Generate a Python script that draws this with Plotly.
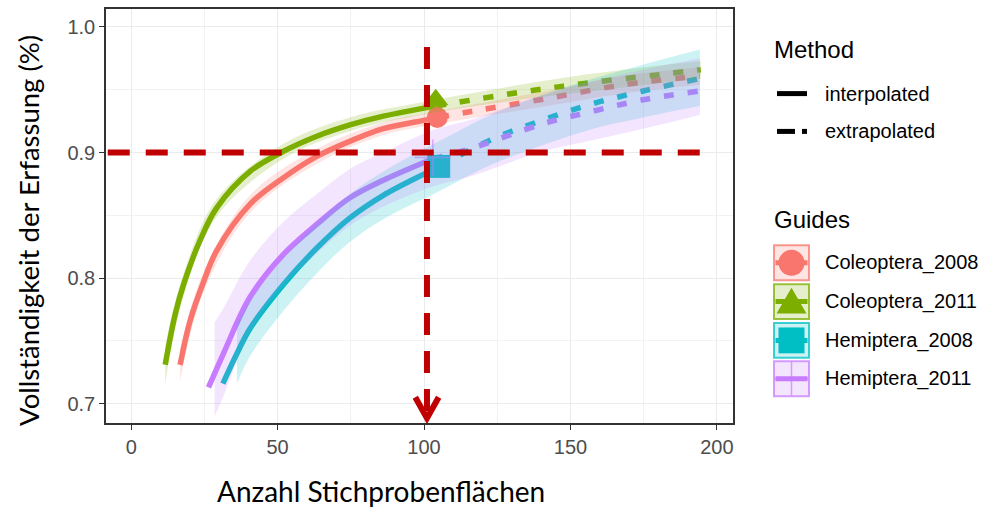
import plotly.graph_objects as go

# ---------------- data ----------------
GROUPS = ["Coleoptera_2008", "Coleoptera_2011", "Hemiptera_2008", "Hemiptera_2011"]
COLORS = ["#F8766D", "#7CAE00", "#00BFC4", "#C77CFF"]
RGB = [(248, 118, 109), (124, 174, 0), (0, 191, 196), (199, 124, 255)]
SYMBOLS = ["circle", "triangle-up", "square", "cross-thin"]

# Coleoptera_2008
c08_int_x = [16.7, 20.1, 24.7, 29.2, 40.6, 52.0, 63.4, 74.7, 86.1, 100.9, 105.0]
c08_int_y = [0.731, 0.766, 0.797, 0.822, 0.859, 0.880, 0.897, 0.909, 0.919, 0.926, 0.928]
c08_ext_x = [105.0, 116.8, 141.9, 168.0, 194.2]
c08_ext_y = [0.928, 0.933, 0.943, 0.954, 0.961]
c08_rib_x = [16.7, 24.7, 40.6, 63.4, 86.1, 105.0, 141.9, 168.0, 194.2]
c08_rib_lo = [0.718, 0.789, 0.852, 0.891, 0.914, 0.923, 0.937, 0.947, 0.954]
c08_rib_hi = [0.744, 0.805, 0.866, 0.903, 0.924, 0.933, 0.949, 0.961, 0.968]
c08_ref = (104.5, 0.928)

# Coleoptera_2011
c11_int_x = [11.6, 15.0, 17.9, 23.5, 29.2, 40.6, 52.0, 63.4, 74.7, 86.1, 104.0]
c11_int_y = [0.731, 0.771, 0.795, 0.830, 0.856, 0.885, 0.901, 0.913, 0.922, 0.929, 0.937]
c11_ext_x = [104.0, 132.8, 157.8, 184.0, 194.5]
c11_ext_y = [0.937, 0.948, 0.956, 0.963, 0.966]
c11_rib_x = [11.6, 17.9, 29.2, 52.0, 74.7, 104.0, 132.8, 157.8, 194.5]
c11_rib_lo = [0.716, 0.786, 0.849, 0.895, 0.917, 0.932, 0.942, 0.949, 0.959]
c11_rib_hi = [0.746, 0.804, 0.863, 0.907, 0.928, 0.942, 0.954, 0.963, 0.973]
c11_ref = (104.0, 0.942)

# Hemiptera_2008
h08_int_x = [31.3, 36.1, 40.6, 52.0, 63.4, 74.7, 86.1, 100.9, 105.0]
h08_int_y = [0.716, 0.740, 0.760, 0.795, 0.824, 0.848, 0.866, 0.884, 0.889]
h08_ext_x = [105.0, 123.7, 140.7, 157.8, 174.8, 194.2]
h08_ext_y = [0.889, 0.911, 0.926, 0.939, 0.949, 0.959]
h08_rib_x = [36.1, 40.6, 52.0, 63.4, 74.7, 86.1, 105.0, 123.7, 140.7, 157.8, 174.8, 194.2]
h08_rib_lo = [0.716, 0.738, 0.774, 0.804, 0.829, 0.847, 0.869, 0.891, 0.906, 0.919, 0.928, 0.937]
h08_rib_hi = [0.764, 0.782, 0.816, 0.844, 0.867, 0.885, 0.909, 0.931, 0.946, 0.959, 0.970, 0.982]
h08_ref = (105.0, 0.889)

# Hemiptera_2011
h11_int_x = [26.4, 31.5, 40.6, 52.0, 63.4, 74.7, 86.1, 100.9, 103.0]
h11_int_y = [0.713, 0.740, 0.785, 0.819, 0.843, 0.864, 0.878, 0.893, 0.895]
h11_ext_x = [103.0, 115.7, 140.7, 157.8, 174.8, 194.2]
h11_ext_y = [0.895, 0.903, 0.923, 0.933, 0.942, 0.949]
h11_rib_x = [28.5, 31.5, 40.6, 52.0, 63.4, 74.7, 86.1, 103.0, 115.7, 140.7, 157.8, 174.8, 194.2]
h11_rib_lo = [0.690, 0.706, 0.757, 0.794, 0.820, 0.842, 0.857, 0.873, 0.881, 0.901, 0.910, 0.919, 0.930]
h11_rib_hi = [0.765, 0.776, 0.814, 0.845, 0.867, 0.887, 0.900, 0.918, 0.926, 0.946, 0.957, 0.966, 0.975]
h11_ref = (103.0, 0.896)

# reference (target) lines
REF_X = 101.0
REF_Y = 0.90
REF_H_START = -8.0
REF_H_END = 195.0
REF_V_TOP = 0.984
REF_V_TIP = 0.6886

X_TICKS = [0, 50, 100, 150, 200]
Y_TICKS = [0.7, 0.8, 0.9, 1.0]
X_RANGE = [-8.6, 205.5]
Y_RANGE = [0.6847, 1.0143]

X_TITLE = "Anzahl Stichprobenflächen"
Y_TITLE = "Vollständigkeit der Erfassung (%)"
METHODS = ["interpolated", "extrapolated"]

series = [
    (c08_int_x, c08_int_y, c08_ext_x, c08_ext_y, c08_rib_x, c08_rib_lo, c08_rib_hi, c08_ref),
    (c11_int_x, c11_int_y, c11_ext_x, c11_ext_y, c11_rib_x, c11_rib_lo, c11_rib_hi, c11_ref),
    (h08_int_x, h08_int_y, h08_ext_x, h08_ext_y, h08_rib_x, h08_rib_lo, h08_rib_hi, h08_ref),
    (h11_int_x, h11_int_y, h11_ext_x, h11_ext_y, h11_rib_x, h11_rib_lo, h11_rib_hi, h11_ref),
]

W, H = 984, 508
PL, PR, PT, PB = 106, 733, 7, 423
LINE_W = 5.5

fig = go.Figure()


def rgba(i, a):
    r, g, b = RGB[i]
    return f"rgba({r},{g},{b},{a})"


# lines
for i, s in enumerate(series):
    ix, iy, ex, ey = s[0], s[1], s[2], s[3]
    fig.add_trace(go.Scatter(x=ix, y=iy, mode="lines", line=dict(color=COLORS[i], width=LINE_W, shape="spline"),
                             showlegend=False, hoverinfo="skip"))
    fig.add_trace(go.Scatter(x=ex, y=ey, mode="lines",
                             line=dict(color=COLORS[i], width=LINE_W, shape="spline", dash="10px,14px"),
                             showlegend=False, hoverinfo="skip"))

# reference points
for i, s in enumerate(series):
    rx, ry = s[7]
    sym = SYMBOLS[i]
    if sym == "cross-thin":
        mk = dict(symbol=sym, size=26, color=rgba(i, 0.6), line=dict(color=rgba(i, 0.6), width=1.5))
    elif sym == "triangle-up":
        mk = dict(symbol=sym, size=22, color=COLORS[i], line=dict(width=0))
    elif sym == "square":
        mk = dict(symbol=sym, size=23, color=COLORS[i], line=dict(width=0))
    else:
        mk = dict(symbol=sym, size=21, color=COLORS[i], line=dict(width=0))
    fig.add_trace(go.Scatter(x=[rx], y=[ry], mode="markers", marker=mk, showlegend=False, hoverinfo="skip"))

# ribbons (drawn over the lines, as in the reference)
for i, s in enumerate(series):
    rx, lo, hi = s[4], s[5], s[6]
    fig.add_trace(go.Scatter(x=rx, y=lo, mode="lines", line=dict(width=0, shape="spline"),
                             showlegend=False, hoverinfo="skip"))
    fig.add_trace(go.Scatter(x=rx, y=hi, mode="lines", fill="tonexty", fillcolor=rgba(i, 0.2),
                             line=dict(width=0, shape="spline"), showlegend=False, hoverinfo="skip"))

shapes = []
RED = "#C00000"
shapes.append(dict(type="line", xref="x", yref="y", x0=REF_H_START, x1=REF_H_END, y0=REF_Y, y1=REF_Y,
                   line=dict(color=RED, width=6, dash="22px,16px"), layer="above"))
shapes.append(dict(type="line", xref="x", yref="y", x0=REF_X, x1=REF_X, y0=REF_V_TOP, y1=REF_V_TIP + 0.004,
                   line=dict(color=RED, width=6, dash="22px,16px"), layer="above"))
ax_dx = 11.7 / ((PR - PL) / (X_RANGE[1] - X_RANGE[0]))
ax_dy = 21.0 / ((PB - PT) / (Y_RANGE[1] - Y_RANGE[0]))
shapes.append(dict(type="path", xref="x", yref="y",
                   path=f"M {REF_X - ax_dx},{REF_V_TIP + ax_dy} L {REF_X},{REF_V_TIP} L {REF_X + ax_dx},{REF_V_TIP + ax_dy}",
                   line=dict(color=RED, width=6), layer="above"))


# ---------- custom legend (pixel positions -> paper coordinates) ----------
def px(x):
    return (x - PL) / (PR - PL)


def py(y):
    return (PB - y) / (PB - PT)


annotations = []
FONT_T = "Liberation Sans, Arial, sans-serif"
annotations.append(dict(x=px(772), y=py(48), xref="paper", yref="paper", text="Method", showarrow=False,
                        xanchor="left", yanchor="middle", font=dict(family=FONT_T, size=24, color="#000000")))
annotations.append(dict(x=px(772), y=py(219), xref="paper", yref="paper", text="Guides", showarrow=False,
                        xanchor="left", yanchor="middle", font=dict(family=FONT_T, size=24, color="#000000")))

method_y = [92, 130]
for j, m in enumerate(METHODS):
    yy = method_y[j]
    if j == 0:
        shapes.append(dict(type="line", xref="paper", yref="paper", x0=px(777), x1=px(807), y0=py(yy), y1=py(yy),
                           line=dict(color="black", width=5)))
    else:
        shapes.append(dict(type="line", xref="paper", yref="paper", x0=px(777), x1=px(795), y0=py(yy), y1=py(yy),
                           line=dict(color="black", width=5)))
        shapes.append(dict(type="line", xref="paper", yref="paper", x0=px(802), x1=px(807), y0=py(yy), y1=py(yy),
                           line=dict(color="black", width=5)))
    annotations.append(dict(x=px(823), y=py(yy), xref="paper", yref="paper", text=m, showarrow=False,
                            xanchor="left", yanchor="middle", font=dict(family=FONT_T, size=20, color="#000000")))

row_c = [262, 301, 340, 378.5]
BX0, BX1 = 774, 809
for i, g in enumerate(GROUPS):
    cy = row_c[i]
    shapes.append(dict(type="rect", xref="paper", yref="paper", x0=px(BX0), x1=px(BX1), y0=py(cy - 17.5),
                       y1=py(cy + 17.5), fillcolor=rgba(i, 0.2), line=dict(color=rgba(i, 0.75), width=2)))
    cx = (BX0 + BX1) / 2
    sym = SYMBOLS[i]
    if sym == "circle":
        shapes.append(dict(type="circle", xref="paper", yref="paper", x0=px(cx - 13), x1=px(cx + 13),
                           y0=py(cy + 13), y1=py(cy - 13), fillcolor=COLORS[i], line=dict(width=0)))
    elif sym == "triangle-up":
        shapes.append(dict(type="path", xref="paper", yref="paper",
                           path=f"M {px(cx - 15)},{py(cy + 12)} L {px(cx)},{py(cy - 14)} L {px(cx + 15)},{py(cy + 12)} Z",
                           fillcolor=COLORS[i], line=dict(width=0)))
    elif sym == "square":
        shapes.append(dict(type="rect", xref="paper", yref="paper", x0=px(cx - 13), x1=px(cx + 13),
                           y0=py(cy + 13), y1=py(cy - 13), fillcolor=COLORS[i], line=dict(width=0)))
    else:
        shapes.append(dict(type="line", xref="paper", yref="paper", x0=px(cx), x1=px(cx),
                           y0=py(cy - 17), y1=py(cy + 17), line=dict(color=rgba(i, 0.7), width=1.5)))
        shapes.append(dict(type="line", xref="paper", yref="paper", x0=px(BX0 + 1), x1=px(BX1 - 1),
                           y0=py(cy), y1=py(cy), line=dict(color=rgba(i, 0.7), width=1.5)))
    shapes.append(dict(type="line", xref="paper", yref="paper", x0=px(BX0 + 1.5), x1=px(BX1 - 1.5),
                       y0=py(cy), y1=py(cy), line=dict(color=COLORS[i], width=5)))
    annotations.append(dict(x=px(823), y=py(cy), xref="paper", yref="paper", text=g, showarrow=False,
                            xanchor="left", yanchor="middle", font=dict(family=FONT_T, size=20, color="#000000")))

# axis titles
FONT_A = "Lato, Carlito, Calibri, sans-serif"
annotations.append(dict(x=px(381), y=py(491), xref="paper", yref="paper", text=X_TITLE, showarrow=False,
                        xanchor="center", yanchor="middle", font=dict(family=FONT_A, size=28, color="#000000")))
annotations.append(dict(x=px(29), y=py(230), xref="paper", yref="paper", text=Y_TITLE, showarrow=False,
                        textangle=-90, xanchor="center", yanchor="middle",
                        font=dict(family=FONT_A, size=27.5, color="#000000")))

axis_common = dict(showline=True, linecolor="#333333", linewidth=1.5, mirror=True,
                   ticks="outside", ticklen=5, tickwidth=1.2, tickcolor="#333333",
                   showgrid=True, gridcolor="#EBEBEB", gridwidth=1.2, zeroline=False,
                   tickfont=dict(family=FONT_T, size=20, color="#4D4D4D"))

fig.update_layout(
    width=W, height=H,
    margin=dict(l=PL, r=W - PR, t=PT, b=H - PB, pad=0),
    paper_bgcolor="white", plot_bgcolor="white",
    showlegend=False,
    xaxis=dict(range=X_RANGE, tickvals=X_TICKS, ticktext=[str(v) for v in X_TICKS],
               minor=dict(dtick=25, tick0=0, showgrid=True, gridcolor="#F2F2F2", gridwidth=0.8, ticks=""),
               **axis_common),
    yaxis=dict(range=Y_RANGE, tickvals=Y_TICKS, ticktext=[f"{v:.1f}" for v in Y_TICKS],
               minor=dict(dtick=0.05, tick0=0.7, showgrid=True, gridcolor="#F2F2F2", gridwidth=0.8, ticks=""),
               **axis_common),
    shapes=shapes,
    annotations=annotations,
)

fig.write_html("out.html", config={"displayModeBar": False},
               post_script="document.body.style.margin='0';document.body.style.padding='0';document.body.style.overflow='hidden';")
